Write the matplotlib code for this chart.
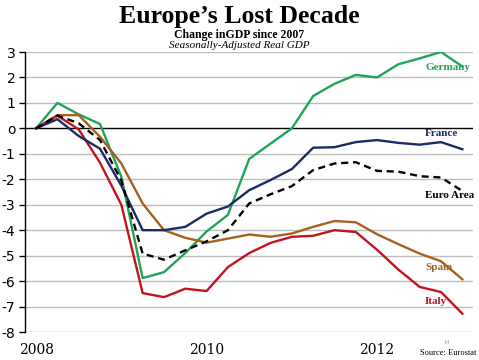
import matplotlib
matplotlib.use("Agg")
import matplotlib.pyplot as plt
import numpy as np

quarters = list(range(21))  # 2008Q1 .. 2013Q1
germany = [0, 1.0, 0.55, 0.17, -1.9, -5.88, -5.65, -4.9, -4.05, -3.4, -1.2, -0.6, 0.0, 1.27, 1.75, 2.1, 2.0, 2.52, 2.75, 3.0, 2.43]
france = [0, 0.36, -0.3, -0.8, -2.25, -4.0, -4.0, -3.87, -3.35, -3.07, -2.43, -2.03, -1.6, -0.76, -0.74, -0.54, -0.46, -0.57, -0.64, -0.54, -0.82]
euro = [0, 0.5, 0.2, -0.46, -2.05, -4.92, -5.16, -4.79, -4.44, -4.0, -2.95, -2.59, -2.27, -1.64, -1.38, -1.33, -1.67, -1.7, -1.88, -1.93, -2.46]
spain = [0, 0.52, 0.52, -0.33, -1.38, -2.95, -4.0, -4.3, -4.49, -4.33, -4.17, -4.26, -4.13, -3.87, -3.64, -3.69, -4.16, -4.55, -4.92, -5.22, -5.93]
italy = [0, 0.5, -0.04, -1.35, -3.0, -6.47, -6.63, -6.3, -6.39, -5.45, -4.9, -4.5, -4.26, -4.22, -4.0, -4.07, -4.77, -5.55, -6.23, -6.43, -7.28]

yticks = [3, 2, 1, 0, -1, -2, -3, -4, -5, -6, -7, -8]
ytick_labels = ["3", "2", "1", "o", "-1", "-2", "-3", "-4", "-5", "-6", "-7", "-8"]
xtick_pos = [0, 8, 16]
xtick_labels = ["2008", "2010", "2012"]

c_green = "#22a35a"
c_navy = "#1c2a66"
c_brown = "#a5611e"
c_red = "#c0151e"

fig = plt.figure(figsize=(4.79, 3.6), dpi=100)
ax = fig.add_axes([25/479, 28/360, (473-25)/479, (332-52)/360])

for y in yticks:
    if y != 0:
        ax.axhline(y, color="#bdbdbd", lw=1.0, zorder=1)
ax.axhline(0, color="black", lw=1.0, zorder=2)

lw = 1.7
ax.plot(quarters, germany, color=c_green, lw=lw, zorder=3)
ax.plot(quarters, spain, color=c_brown, lw=lw, zorder=3)
ax.plot(quarters, italy, color=c_red, lw=lw, zorder=3)
ax.plot(quarters, france, color=c_navy, lw=lw, zorder=4)
ax.plot(quarters, euro, color="black", lw=lw, ls=(0, (3, 2)), zorder=5)

ax.set_xlim(-0.52, 20.5)
ax.set_ylim(-8, 3)
ax.set_yticks(yticks)
ax.set_yticklabels(ytick_labels, fontsize=10, family="DejaVu Sans")
ax.set_xticks(xtick_pos)
ax.set_xticklabels(xtick_labels, fontsize=10, family="DejaVu Serif")
ax.tick_params(axis="x", length=0, pad=8)
ax.tick_params(axis="y", length=4, width=1, direction="out", pad=3)
for s in ["top", "right", "bottom"]:
    ax.spines[s].set_visible(False)
ax.spines["left"].set_linewidth(1.0)

serif = ["Liberation Serif", "DejaVu Serif"]
fig.text(0.5, 1 - 17/360, "Europe\u2019s Lost Decade", ha="center", va="center",
         fontsize=18.5, fontweight="bold", family=serif)
fig.text(0.5, 1 - 35/360, "Change inGDP since 2007", ha="center", va="center",
         fontsize=8.5, fontweight="bold", family=serif)
fig.text(0.5, 1 - 46/360, "Seasonally-Adjusted Real GDP", ha="center", va="center",
         fontsize=8, style="italic", family=serif)

lab_kw = dict(ha="left", va="center", fontsize=8, fontweight="bold", family=serif)
fig.text(425/479, 1 - 68/360, "Germany", color=c_green, **lab_kw)
fig.text(425/479, 1 - 134/360, "France", color=c_navy, **lab_kw)
fig.text(425/479, 1 - 195/360, "Euro Area", color="black", **lab_kw)
fig.text(425/479, 1 - 267/360, "Spain", color=c_brown, **lab_kw)
fig.text(425/479, 1 - 302/360, "Italy", color=c_red, **lab_kw)
fig.text(447/479, 1 - 342/360, "14", color="#999999", ha="center", va="center", fontsize=4.5, family=serif)
fig.text(448/479, 1 - 353/360, "Source: Eurostat", color="black", ha="center", va="center", fontsize=6, family=serif)

fig.savefig("out.png", dpi=100)
